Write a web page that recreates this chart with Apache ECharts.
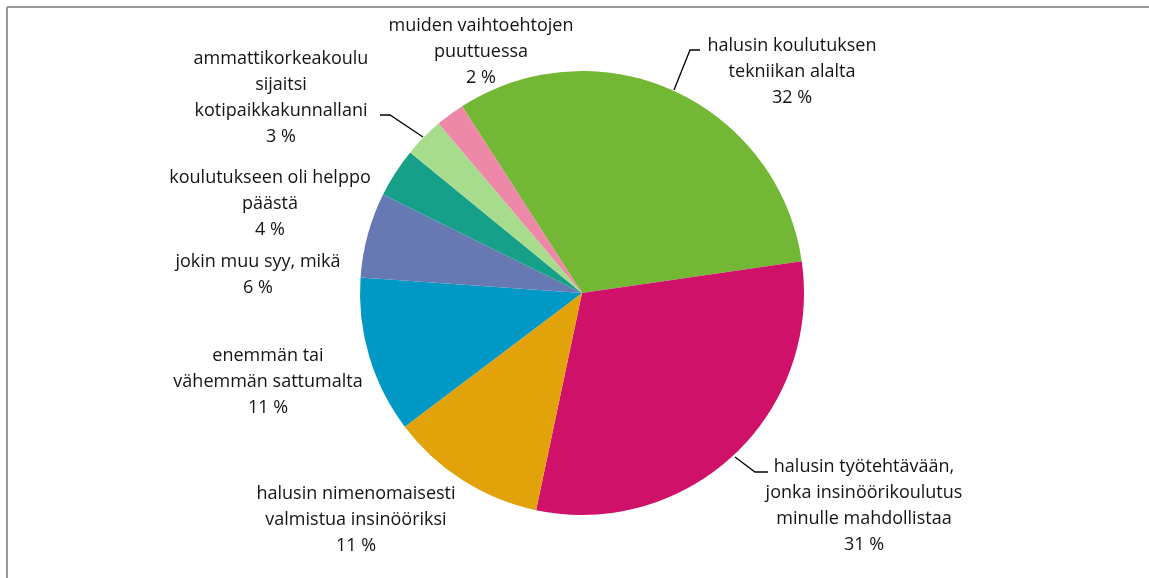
<!DOCTYPE html>
<html>
<head>
<meta charset="utf-8">
<title>pie</title>
<script src="https://cdn.jsdelivr.net/npm/echarts@6/dist/echarts.min.js"></script>
<style>
    html, body { margin: 0; padding: 0; background: #fff; }
    #main { width: 1149px; height: 578px; }
</style>
</head>
<body>
<div id="main"></div>
<script>
// slice names (line breaks as in the picture)
var names = [
    'halusin koulutuksen\ntekniikan alalta',
    'halusin työtehtävään,\njonka insinöörikoulutus\nminulle mahdollistaa',
    'halusin nimenomaisesti\nvalmistua insinööriksi',
    'enemmän tai\nvähemmän sattumalta',
    'jokin muu syy, mikä',
    'koulutukseen oli helppo\npäästä',
    'ammattikorkeakoulu\nsijaitsi\nkotipaikkakunnallani',
    'muiden vaihtoehtojen\npuuttuessa'
];
// shares in %
var values = [31.8, 30.6, 11.4, 11.4, 6.2, 3.6, 2.9, 2.1];
var colors = ['#72B834', '#D0116A', '#E2A30A', '#0099C5', '#6679B2', '#17A089', '#A8DC8D', '#EE88A9'];

// label block centres
var labelPos = [
    [792, 72], [864, 506], [356, 520], [268, 382],
    [258, 275], [270, 204], [281, 98], [481, 52]
];
// leader lines (only three labels have them)
var leaders = {
    0: [[674, 90], [690, 50], [700, 50]],
    1: [[735, 457], [755, 472], [768, 472]],
    6: [[423, 137], [390, 115], [380, 115]]
};

var data = [];
for (var i = 0; i < names.length; i++) {
    data.push({ name: names[i], value: values[i], itemStyle: { color: colors[i] } });
}

var myChart = echarts.init(document.getElementById('main'));
myChart.setOption({
    animation: false,
    graphic: [
        { type: 'line', shape: { x1: 7, y1: 7, x2: 1149, y2: 7 }, style: { stroke: '#9a9a9a', lineWidth: 2 } },
        { type: 'line', shape: { x1: 7, y1: 7, x2: 7, y2: 578 }, style: { stroke: '#9a9a9a', lineWidth: 2 } }
    ],
    series: [{
        type: 'pie',
        center: [582, 293],
        radius: 222,
        startAngle: 122.7,
        clockwise: true,
        data: data,
        itemStyle: { borderWidth: 0 },
        label: {
            show: true,
            formatter: function (p) {
                return p.name + '\n' + Math.round(p.value) + ' %';
            },
            fontFamily: 'Open Sans',
            fontSize: 18,
            lineHeight: 26,
            color: '#141414',
            align: 'center'
        },
        labelLine: {
            show: true,
            lineStyle: { color: '#000', width: 1.3 }
        },
        labelLayout: function (params) {
            var idx = params.dataIndex;
            var out = {
                x: labelPos[idx][0],
                y: labelPos[idx][1],
                align: 'center',
                verticalAlign: 'middle'
            };
            if (leaders[idx]) {
                out.labelLinePoints = leaders[idx];
            } else {
                out.labelLinePoints = [[0, 0], [0, 0], [0, 0]];
            }
            return out;
        }
    }]
});
</script>
</body>
</html>
